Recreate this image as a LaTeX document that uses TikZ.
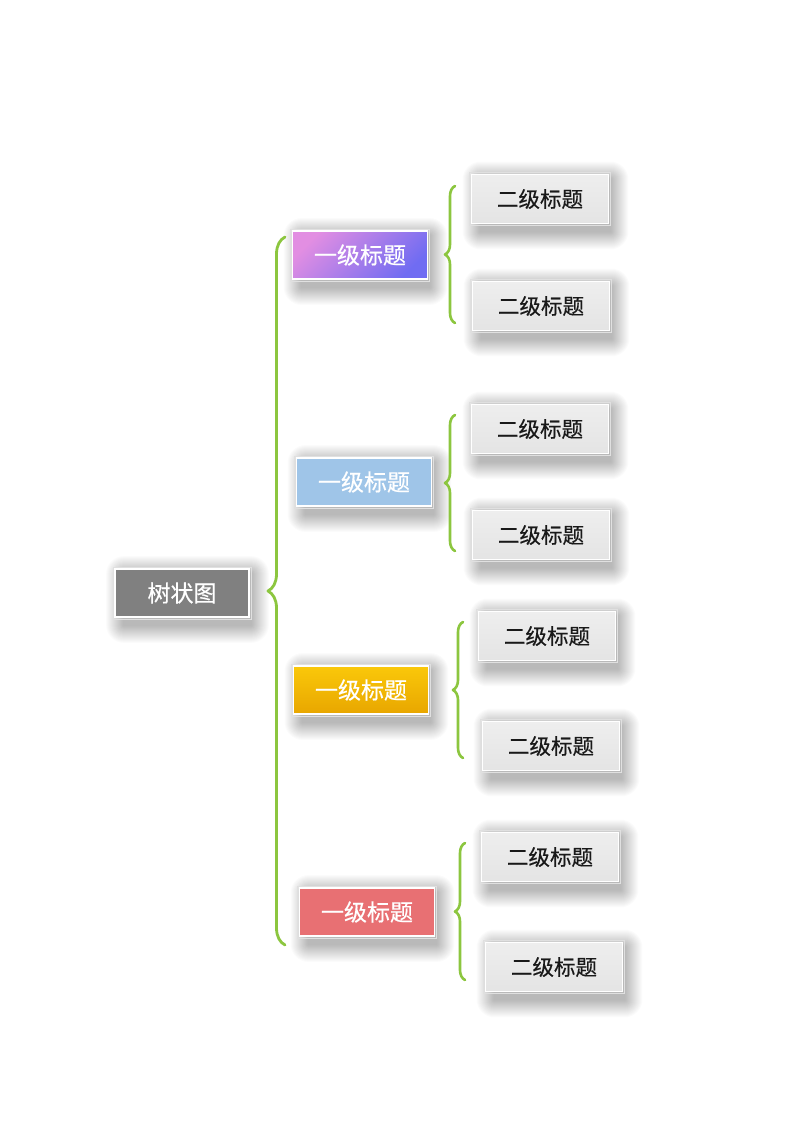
\documentclass[tikz,border=0pt]{standalone}
\usepackage{fontspec}
\newfontfamily\cjk[FakeBold=0.5]{Noto Sans CJK SC}
\usetikzlibrary{decorations.pathreplacing,backgrounds}
\definecolor{brgreen}{RGB}{140,198,63}
\definecolor{rootgray}{RGB}{128,128,128}
\definecolor{pinkp}{RGB}{226,142,226}
\definecolor{bluep}{RGB}{112,108,242}
\definecolor{skyb}{RGB}{159,197,232}
\definecolor{ambtop}{RGB}{250,200,10}
\definecolor{ambbot}{RGB}{232,166,0}
\definecolor{redb}{RGB}{232,112,115}
\definecolor{l2top}{RGB}{238,238,238}
\definecolor{l2bot}{RGB}{228,228,228}
\tikzset{
  x=1pt, y=-1pt,
  boxbase/.style={draw=white, line width=1.8pt, inner sep=0pt, font=\cjk\fontsize{23}{27}\selectfont},
  rootbox/.style={boxbase, fill=rootgray, text=white, minimum width=134pt, minimum height=48pt},
  lonebox/.style={boxbase, text=white, minimum width=135pt, minimum height=48pt},
  ltwobox/.style={boxbase, top color=l2top, bottom color=l2bot, text=black!90, minimum width=137pt, minimum height=49pt, font=\cjk\fontsize{21.5}{25}\selectfont},
  bigbrace/.style={draw=brgreen, line width=2.8pt, line cap=round, line join=round, decorate, decoration={brace, amplitude=17pt}},
  smallbrace/.style={draw=brgreen, line width=2.6pt, line cap=round, line join=round, decorate, decoration={brace, amplitude=10pt}},
  softshade/.style={fill=black, opacity=0.017},
}
\begin{document}
\begin{tikzpicture}
\useasboundingbox (0,0) rectangle (800,1132);

\node[rootbox] (root) at (182,593) {树状图};

\node[lonebox, top color=pinkp, bottom color=bluep, shading angle=45] (a) at (360,255) {一级标题};
\node[lonebox, fill=skyb] (b) at (364,482) {一级标题};
\node[lonebox, top color=ambtop, bottom color=ambbot] (c) at (361,690) {一级标题};
\node[lonebox, fill=redb] (d) at (367,912) {一级标题};

\node[ltwobox] (a1) at (540,199) {二级标题};
\node[ltwobox] (a2) at (541,306) {二级标题};
\node[ltwobox] (b1) at (540,429) {二级标题};
\node[ltwobox] (b2) at (541,535) {二级标题};
\node[ltwobox] (c1) at (547,636) {二级标题};
\node[ltwobox] (c2) at (551,746) {二级标题};
\node[ltwobox] (d1) at (550,857) {二级标题};
\node[ltwobox] (d2) at (554,967) {二级标题};

\begin{scope}[on background layer]
\fill[white] (0,0) rectangle (800,1132);
\foreach \n in {root,a,b,c,d,a1,a2,b1,b2,c1,c2,d1,d2}{
  \foreach \i in {1,...,18}{
    \fill[softshade, rounded corners=\i pt]
      ([shift={({10-\i},{6-\i})}]\n.north west) rectangle ([shift={({1+\i},{7+\i})}]\n.south east);
  }
  \draw[black!12, line width=0.6pt] ([shift={(-1.2,-1.2)}]\n.north west) rectangle ([shift={(1.2,1.2)}]\n.south east);
}
\end{scope}

\coordinate (bigtop) at (285,237);
\coordinate (bigbot) at (285,945);
\draw[bigbrace] (bigbot) -- (bigtop);

\coordinate (atop) at (455,186); \coordinate (abot) at (455,323);
\coordinate (btop) at (455,415); \coordinate (bbot) at (455,551);
\coordinate (ctop) at (463,622); \coordinate (cbot) at (463,758);
\coordinate (dtop) at (465,843); \coordinate (dbot) at (465,980);
\draw[smallbrace] (abot) -- (atop);
\draw[smallbrace] (bbot) -- (btop);
\draw[smallbrace] (cbot) -- (ctop);
\draw[smallbrace] (dbot) -- (dtop);
\end{tikzpicture}
\end{document}
